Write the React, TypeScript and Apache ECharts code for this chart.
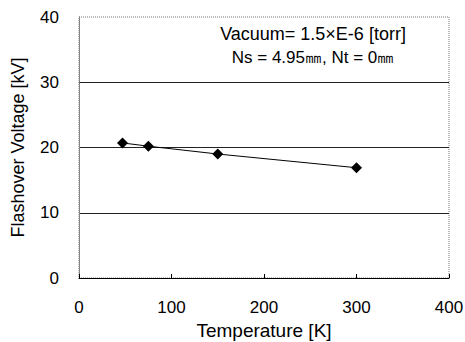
import React, { useEffect, useRef } from "react";
import * as echarts from "echarts";

const temperatures = [47, 75, 150, 300];
const voltages = [20.7, 20.2, 19.0, 16.9];
const annotationLine1 = "Vacuum= 1.5×E-6 [torr]";
const annotationLine2 = "Ns = 4.95㎜, Nt = 0㎜";

export default function App() {
  const ref = useRef<HTMLDivElement>(null);
  useEffect(() => {
    document.body.style.margin = "0";
    const chart = echarts.init(ref.current!, null, { renderer: "svg" });
    const font = "Liberation Sans, Arial, sans-serif";
    chart.setOption({
      animation: false,
      backgroundColor: "#fff",
      grid: {
        left: 79,
        right: 16,
        top: 17,
        bottom: 64,
        containLabel: false,
        outerBoundsMode: "none",
        show: true,
        borderColor: "#777",
        borderWidth: 1,
        borderType: "dotted",
      },
      xAxis: {
        type: "value",
        min: 0,
        max: 400,
        interval: 100,
        name: "Temperature [K]",
        nameLocation: "middle",
        nameGap: 41,
        nameTextStyle: { fontFamily: font, fontSize: 19, color: "#000" },
        axisLine: { show: true, lineStyle: { color: "#000", width: 1 } },
        axisTick: { show: true, inside: true, length: 4, lineStyle: { color: "#000" } },
        axisLabel: { fontFamily: font, fontSize: 17, color: "#000", margin: 21 },
        splitLine: { show: false },
      },
      yAxis: {
        type: "value",
        min: 0,
        max: 40,
        interval: 10,
        name: "Flashover Voltage [kV]",
        nameLocation: "middle",
        nameGap: 52,
        nameTextStyle: { fontFamily: font, fontSize: 18, color: "#000" },
        axisLine: { show: true, lineStyle: { color: "#777", type: "dotted" } },
        axisTick: { show: false },
        axisLabel: { fontFamily: font, fontSize: 17, color: "#000", margin: 20 },
        splitLine: {
          show: true,
          lineStyle: { color: ["transparent", "#222", "#222", "#222", "transparent"], width: 1 },
        },
      },
      graphic: [
        {
          type: "text",
          x: 313,
          y: 34,
          style: {
            text: annotationLine1,
            fontFamily: font,
            fontSize: 18,
            fill: "#000",
            align: "center",
            verticalAlign: "middle",
          },
        },
        {
          type: "text",
          x: 313,
          y: 57,
          style: {
            text: annotationLine2,
            fontFamily: font,
            fontSize: 17,
            fill: "#000",
            align: "center",
            verticalAlign: "middle",
          },
        },
      ],
      series: [
        {
          type: "line",
          data: temperatures.map((t, i) => [t, voltages[i]]),
          symbol: "diamond",
          symbolSize: 11,
          itemStyle: { color: "#000" },
          lineStyle: { color: "#000", width: 1 },
        },
      ],
    });
    return () => chart.dispose();
  }, []);
  return <div ref={ref} style={{ width: 465, height: 342 }} />;
}
